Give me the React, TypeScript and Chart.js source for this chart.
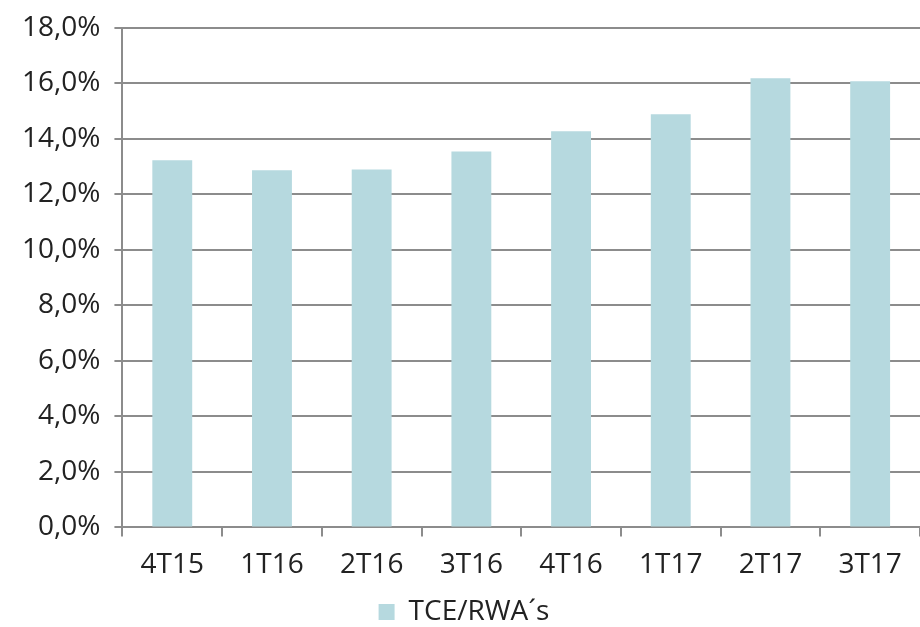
import React, { useEffect, useRef } from "react";
import { Chart, registerables } from "chart.js";

Chart.register(...registerables);

const categories = ["4T15", "1T16", "2T16", "3T16", "4T16", "1T17", "2T17", "3T17"];
const tceRwa = [13.23, 12.87, 12.9, 13.55, 14.28, 14.89, 16.19, 16.08];
const seriesLabel = "TCE/RWA´s";

export default function App() {
  const ref = useRef<HTMLCanvasElement | null>(null);
  useEffect(() => {
    document.body.style.margin = "0";
    if (!ref.current) return;
    const font = { family: "'Open Sans', sans-serif", size: 28, weight: "normal" as any };
    const chart = new Chart(ref.current, {
      type: "bar",
      data: {
        labels: categories,
        datasets: [
          {
            label: seriesLabel,
            data: tceRwa,
            backgroundColor: "#b6d9df",
            borderWidth: 0,
            categoryPercentage: 1,
            barPercentage: 0.4,
          },
        ],
      },
      options: {
        responsive: false,
        animation: false,
        devicePixelRatio: 1,
        layout: { padding: { top: 4, right: 0, left: 8, bottom: -9 } },
        plugins: {
          tooltip: { enabled: false },
          legend: {
            position: "bottom",
            labels: {
              font,
              color: "#222",
              boxWidth: 16,
              boxHeight: 16,
              padding: 0,
            },
          },
        },
        scales: {
          x: {
            offset: true,
            grid: {
              offset: true,
              drawOnChartArea: false,
              drawTicks: true,
              tickLength: 9,
              color: "#8c8c8c",
              lineWidth: 2,
            },
            border: { color: "#8c8c8c", width: 2 },
            ticks: { font, color: "#222", padding: 12 },
            title: {
              display: true,
              text: " ",
              font: { size: 1, lineHeight: 1 },
              padding: { top: 3, bottom: 0 },
            },
          },
          y: {
            min: 0,
            max: 18,
            ticks: {
              stepSize: 2,
              font: { ...font, lineHeight: 1 },
              color: "#222",
              padding: 14,
              callback: (v: any) => Number(v).toFixed(1).replace(".", ",") + "%",
            },
            grid: { color: "#8c8c8c", lineWidth: 2, tickLength: 8 },
            border: { color: "#8c8c8c", width: 2 },
          },
        },
      },
    });
    return () => chart.destroy();
  }, []);
  return <canvas ref={ref} width={920} height={627} style={{ display: "block" }} />;
}
